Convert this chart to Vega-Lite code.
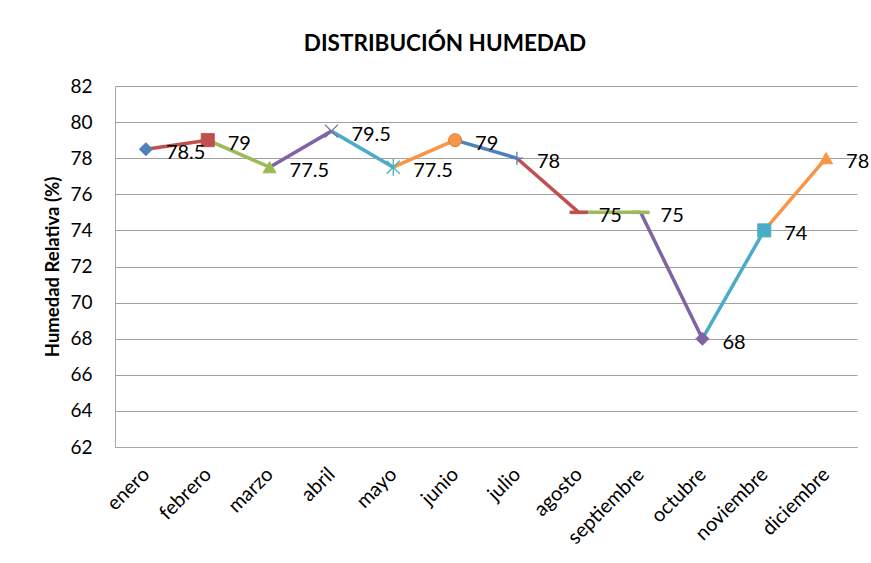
{
  "$schema": "https://vega.github.io/schema/vega-lite/v6.json",
  "autosize": "none",
  "width": 742,
  "height": 361,
  "padding": {"left": 115, "top": 86, "right": 14, "bottom": 116},
  "background": "white",
  "config": {"view": {"stroke": null}, "font": "Lato"},
  "title": {"text": "DISTRIBUCIÓN HUMEDAD", "fontSize": 22.5, "fontWeight": "bold", "font": "Lato", "color": "black", "offset": 22, "dx": -41, "anchor": "middle"},
  "data": {"values": [
    {"mes": "enero", "valor": 78.5},
    {"mes": "febrero", "valor": 79},
    {"mes": "marzo", "valor": 77.5},
    {"mes": "abril", "valor": 79.5},
    {"mes": "mayo", "valor": 77.5},
    {"mes": "junio", "valor": 79},
    {"mes": "julio", "valor": 78},
    {"mes": "agosto", "valor": 75},
    {"mes": "septiembre", "valor": 75},
    {"mes": "octubre", "valor": 68},
    {"mes": "noviembre", "valor": 74},
    {"mes": "diciembre", "valor": 78}
  ]},
  "encoding": {
    "x": {"field": "mes", "type": "nominal", "sort": null,
      "scale": {"type": "point", "padding": 0.5},
      "axis": {"title": null, "labelAngle": -45, "labelAlign": "right", "labelBaseline": "middle", "labelPadding": 24, "labelFontSize": 20, "labelColor": "black", "ticks": false, "domainColor": "#A6A6A6", "grid": false}},
    "y": {"field": "valor", "type": "quantitative",
      "scale": {"domain": [62, 82], "nice": false, "zero": false},
      "axis": {"title": "Humedad Relativa (%)", "titleFontSize": 18.5, "titleFontWeight": "bold", "titleColor": "black", "titlePadding": 7, "values": [62,64,66,68,70,72,74,76,78,80,82], "labelFontSize": 19, "labelColor": "black", "labelPadding": 23, "ticks": false, "domainColor": "#A6A6A6", "gridColor": "#A0A0A0", "gridWidth": 1}}
  },
  "layer": [
    {
      "transform": [
        {"window": [{"op": "lag", "field": "mes", "as": "prev"}, {"op": "lag", "field": "valor", "as": "prevValor"}]},
        {"filter": "datum.prev != null"}
      ],
      "mark": {"type": "rule", "strokeWidth": 3.5, "strokeCap": "butt"},
      "encoding": {
        "x": {"field": "prev", "type": "nominal", "sort": null},
        "y": {"field": "prevValor", "type": "quantitative"},
        "x2": {"field": "mes"},
        "y2": {"field": "valor"},
        "color": {"field": "mes", "type": "nominal", "sort": null, "legend": null,
          "scale": {"domain": ["enero","febrero","marzo","abril","mayo","junio","julio","agosto","septiembre","octubre","noviembre","diciembre"],
            "range": ["#4F81BD","#C0504D","#9BBB59","#8064A2","#4BACC6","#F79646","#4F81BD","#C0504D","#9BBB59","#8064A2","#4BACC6","#F79646"]}}
      }
    },
    {
      "mark": {"type": "point", "filled": true, "opacity": 1, "size": 170},
      "encoding": {
        "color": {"field": "mes", "type": "nominal", "sort": null, "legend": null},
        "stroke": {"field": "mes", "type": "nominal", "sort": null, "legend": null,
          "scale": {"domain": ["enero","febrero","marzo","abril","mayo","junio","julio","agosto","septiembre","octubre","noviembre","diciembre"],
            "range": ["#4F81BD","#C0504D","#9BBB59","#8064A2","#4BACC6","#D6803A","#4F81BD","#C0504D","#9BBB59","#8064A2","#4BACC6","#F79646"]}},
        "shape": {"field": "mes", "type": "nominal", "sort": null, "legend": null,
          "scale": {"domain": ["enero","febrero","marzo","abril","mayo","junio","julio","agosto","septiembre","octubre","noviembre","diciembre"],
            "range": ["diamond","square","triangle-up","M-1,-1L1,1M-1,1L1,-1","M-1,-1L1,1M-1,1L1,-1M0,-1.3L0,1.3","circle","M-1,0L1,0M0,-1L0,1","M-1.4,0L1.4,0","M-1.4,0L1.4,0","diamond","square","triangle-up"]}},
        "strokeWidth": {"field": "mes", "type": "nominal", "sort": null, "legend": null,
          "scale": {"type": "ordinal", "domain": ["enero","febrero","marzo","abril","mayo","junio","julio","agosto","septiembre","octubre","noviembre","diciembre"],
            "range": [1,1,1,1.3,1.3,1,1.3,3.5,3.5,1,1,1]}}
      }
    },
    {
      "mark": {"type": "text", "align": "left", "baseline": "middle", "dx": 20, "dy": 4, "fontSize": 20, "color": "black", "font": "Lato"},
      "encoding": {"text": {"field": "valor", "type": "quantitative"}}
    }
  ]
}
